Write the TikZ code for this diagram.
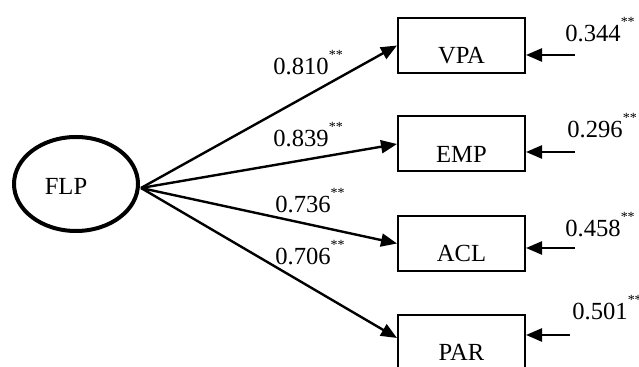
\documentclass[tikz,border=0pt]{standalone}
\usepackage{fontspec}
\setmainfont{Liberation Serif}
\usetikzlibrary{arrows.meta,shapes.geometric}
\newcommand{\sig}{\raisebox{7.5pt}{\fontsize{7}{7}\selectfont **}}
\begin{document}
\begin{tikzpicture}[x=0.5pt,y=-0.5pt,
  every node/.style={font=\fontsize{12.3}{14}\selectfont},
  latent/.style={ellipse,draw,line width=2pt,minimum width=62pt,minimum height=47pt,inner sep=0pt},
  observed/.style={rectangle,draw,line width=1pt,minimum width=63.5pt,minimum height=27.5pt,inner sep=0pt},
  inlabel/.style={label={[yshift=-5pt]center:#1}},
  loading/.style={line width=1.2pt,-{Triangle[length=8pt,width=6.5pt]}},
  coef/.style={anchor=base west,inner sep=0pt},
]
\useasboundingbox (0,0) rectangle (639,367);
\fill[white] (0,0) rectangle (639,367);

\node[latent,label={[xshift=-5pt,yshift=-1pt]center:FLP}] (FLP) at (76,184) {};
\node[observed,inlabel=VPA] (VPA) at (461.5,45.5) {};
\node[observed,inlabel=EMP] (EMP) at (461.5,144) {};
\node[observed,inlabel=ACL] (ACL) at (461.5,243.5) {};
\node[observed,inlabel=PAR] (PAR) at (461.5,342.5) {};

\coordinate (o) at (141,188);
\draw[loading] (o) -- (VPA.west);
\draw[loading] (o) -- (EMP.west);
\draw[loading] (o) -- (ACL.west);
\draw[loading] (o) -- ([yshift=2.25pt]PAR.west);

\node[coef] (c1) at (273,75) {0.810\sig};
\node[coef] (c2) at (273,147) {0.839\sig};
\node[coef] (c3) at (275,213) {0.736\sig};
\node[coef] (c4) at (275,265) {0.706\sig};

\coordinate (e1) at (575,55);
\coordinate (e2) at (575,152);
\coordinate (e3) at (575,248);
\coordinate (e4) at (570,335);
\draw[loading] (e1) -- (e1 -| VPA.east);
\draw[loading] (e2) -- (e2 -| EMP.east);
\draw[loading] (e3) -- (e3 -| ACL.east);
\draw[loading] (e4) -- (e4 -| PAR.east);

\node[coef] (r1) at (565,42) {0.344\sig};
\node[coef] (r2) at (567,138) {0.296\sig};
\node[coef] (r3) at (565,237) {0.458\sig};
\node[coef] (r4) at (572,320) {0.501\sig};
\end{tikzpicture}
\end{document}
